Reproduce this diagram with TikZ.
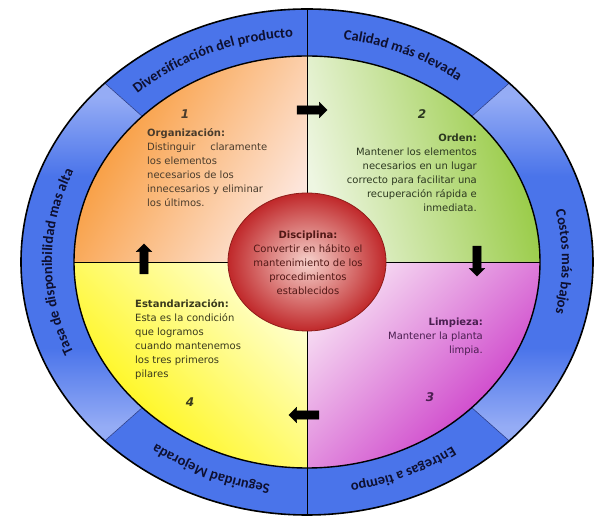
\documentclass[tikz,border=0pt]{standalone}
\usepackage{fontspec}
\setmainfont{DejaVu Sans}
\newfontfamily\ringfamily{Carlito}
\usepackage{tikz}
\usetikzlibrary{shapes.arrows}
\usetikzlibrary{decorations.text}

\definecolor{ringBlue}{HTML}{4A74EA}
\definecolor{ringLight}{HTML}{95ACF5}
\definecolor{ringLine}{HTML}{2C3F8C}
\definecolor{ringInk}{HTML}{0E1030}
\definecolor{orgStrong}{HTML}{F8932A}
\definecolor{orgPale}{HTML}{FDE6DC}
\definecolor{grnStrong}{HTML}{92C83A}
\definecolor{grnPale}{HTML}{EEF6E2}
\definecolor{magStrong}{HTML}{C72BC4}
\definecolor{magPale}{HTML}{F7DDF3}
\definecolor{yelStrong}{HTML}{FFF500}
\definecolor{yelPale}{HTML}{FFFFD2}
\definecolor{discInner}{HTML}{F6D2CC}
\definecolor{discOuter}{HTML}{C0282A}
\definecolor{discEdge}{HTML}{8E1C18}
\definecolor{inkOrange}{HTML}{4A3C2C}
\definecolor{inkGreen}{HTML}{2C3820}
\definecolor{inkMagenta}{HTML}{4A1E50}
\definecolor{inkYellow}{HTML}{3A3A1C}
\definecolor{inkDisc}{HTML}{521816}

\pgfdeclareverticalshading{sideRing}{100bp}{color(0bp)=(ringLight); color(27bp)=(ringLight); color(38bp)=(ringBlue); color(62bp)=(ringBlue); color(73bp)=(ringLight); color(100bp)=(ringLight)}

\newcommand{\ringfont}{\ringfamily\bfseries\fontsize{14.5}{14.5}\selectfont\color{ringInk}}
\newcommand{\topStrut}{\rule{0pt}{10pt}}

\newcommand{\ringSegment}[3]{
	% #1: start angle
	% #2: end angle
	% #3: fill or shading
	\path[#3] (#1:286 and 253) arc[start angle=#1, end angle=#2, x radius=286pt, y radius=253pt]
		-- (#2:233 and 206) arc[start angle=#2, end angle=#1, x radius=233pt, y radius=206pt] -- cycle;
}
\newcommand{\ringLabel}[3]{
	% #1: start angle
	% #2: end angle
	% #3: text
	\path[decorate, decoration={text along path, text align=center, text={|\ringfont|#3}}]
		(#1:255 and 225) arc[start angle=#1, end angle=#2, x radius=255pt, y radius=225pt];
}
\newcommand{\quadrant}[3]{
	% #1: start angle
	% #2: end angle
	% #3: shading
	\path[#3] (0,0) -- (#1:233 and 206) arc[start angle=#1, end angle=#2, x radius=233pt, y radius=206pt] -- cycle;
}

\begin{document}
\begin{tikzpicture}[x=1pt,y=1pt,
	bodytext/.style={font=\fontsize{10}{14}\selectfont, inner sep=0pt},
	stepNumber/.style={font=\fontsize{12}{12}\selectfont\bfseries\itshape, inner sep=0pt},
	blockArrow/.style={single arrow, fill=black, draw=black, minimum height=30pt,
		inner xsep=0pt, inner ysep=4pt, single arrow head extend=3.5pt},
	ringDivider/.style={draw=ringLine, line width=0.6pt},
	crossLine/.style={draw=black, line width=0.9pt}]

\useasboundingbox (-307,-254) rectangle (288,262);

% ring segments
\ringSegment{90}{135}{fill=ringBlue}
\ringSegment{45}{90}{fill=ringBlue}
\ringSegment{-45}{45}{shade, shading=sideRing}
\ringSegment{-90}{-45}{fill=ringBlue}
\ringSegment{-135}{-90}{fill=ringBlue}
\ringSegment{135}{225}{shade, shading=sideRing}

% quadrants
\quadrant{90}{180}{top color=orgStrong, bottom color=orgPale, shading angle=60}
\quadrant{0}{90}{top color=grnStrong, bottom color=grnPale, shading angle=-75}
\quadrant{-90}{0}{top color=magStrong, bottom color=magPale, shading angle=-135}
\quadrant{180}{270}{top color=yelStrong, bottom color=yelPale, shading angle=135}

% ring dividers
\draw[ringDivider] (45:233 and 206) -- (45:286 and 253);
\draw[ringDivider] (135:233 and 206) -- (135:286 and 253);
\draw[ringDivider] (225:233 and 206) -- (225:286 and 253);
\draw[ringDivider] (315:233 and 206) -- (315:286 and 253);

% vertical and horizontal
\draw[crossLine] (0,253) -- (0,-253);
\draw[crossLine] (-233,0) -- (233,0);

% borders
\draw[line width=1.4pt] (0,0) ellipse[x radius=233pt, y radius=206pt];
\draw[line width=1.6pt] (0,0) ellipse[x radius=286pt, y radius=253pt];

% ring labels
\ringLabel{135}{90}{Diversificación del producto}
\ringLabel{90}{45}{Calidad más elevada}
\ringLabel{45}{-45}{Costos más bajos}
\ringLabel{-45}{-90}{Entregas a tiempo}
\ringLabel{-90}{-135}{Seguridad Mejorada}
\ringLabel{225}{135}{Tasa de disponibilidad mas alta}

% disciplina
\shade[inner color=discInner, outer color=discOuter, draw=discEdge, line width=0.8pt]
	(0,0) ellipse[x radius=79pt, y radius=69pt];
\node[bodytext, anchor=north, align=center, text=inkDisc] (disciplina) at (1,33.5)
	{\topStrut\textbf{Disciplina:}\\ Convertir en hábito el\\ mantenimiento de los\\ procedimientos\\ establecidos};

% pillars
\node[bodytext, anchor=north west, align=left, text=inkOrange] (organizacion) at (-160,135.5)
	{\topStrut\textbf{Organización:}\\ \makebox[120pt][s]{Distinguir claramente}\\ los elementos\\
	necesarios de los\\ innecesarios y eliminar\\ los últimos.};
\node[bodytext, anchor=north east, align=right, text=inkGreen] (orden) at (170,130.5)
	{\topStrut\textbf{Orden:}\\ Mantener los elementos\\ necesarios en un lugar\\
	correcto para facilitar una\\ recuperación rápida e\\ inmediata.};
\node[bodytext, anchor=north east, align=right, text=inkMagenta] (limpieza) at (176,-53.5)
	{\topStrut\textbf{Limpieza:}\\ Mantener la planta\\ limpia.};
\node[bodytext, anchor=north west, align=left, text=inkYellow] (estandarizacion) at (-172,-35.5)
	{\topStrut\textbf{Estandarización:}\\ Esta es la condición\\ que logramos\\
	cuando mantenemos\\ los tres primeros\\ pilares};

% step numbers
\node[stepNumber, text=inkOrange] (num1) at (-122,148) {1};
\node[stepNumber, text=inkGreen] (num2) at (115,148) {2};
\node[stepNumber, text=inkMagenta] (num3) at (123,-135) {3};
\node[stepNumber, text=inkYellow] (num4) at (-117,-140) {4};

% cycle arrows
\node[blockArrow] (toOrden) at (3,152) {};
\node[blockArrow, rotate=-90] (toLimpieza) at (170,3) {};
\node[blockArrow, rotate=180] (toEstandarizacion) at (-1,-153) {};
\node[blockArrow, rotate=90] (toOrganizacion) at (-163,1) {};

\end{tikzpicture}
\end{document}
